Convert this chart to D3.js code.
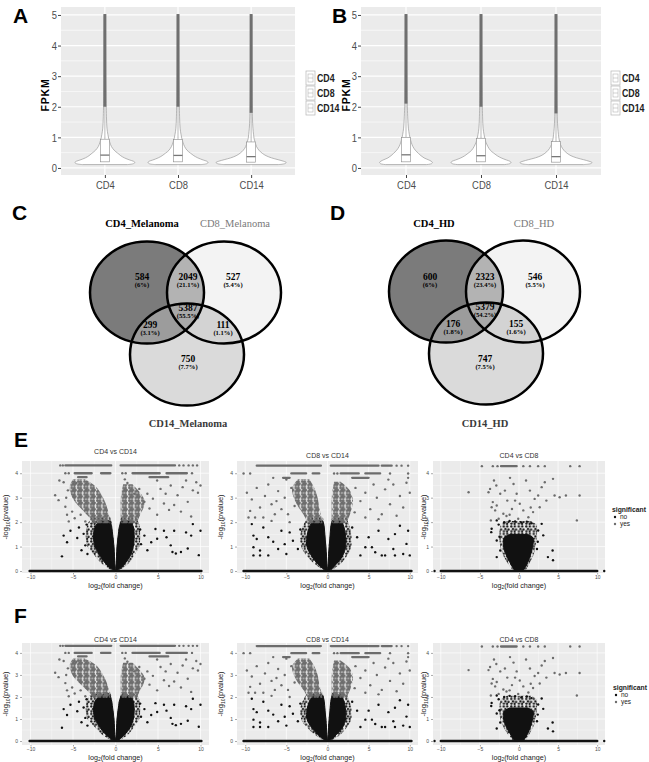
<!DOCTYPE html>
<html>
<head>
<meta charset="utf-8">
<script src="https://cdn.jsdelivr.net/npm/d3@7"></script>
<style>body{margin:0;background:#fff}</style>
</head>
<body>
<script>
// ---------- data ----------
var cellTypes = ["CD4", "CD8", "CD14"]
var fpkmTicks = [0, 1, 2, 3, 4, 5]
var fpkmMinor = [0.5, 1.5, 2.5, 3.5, 4.5]

// box stats per cell type: [q1, median, q3, first outlier]
var boxA = [[0.20, 0.42, 0.94, 2.0], [0.20, 0.41, 0.93, 2.0], [0.19, 0.37, 0.85, 1.8]]
var boxB = [[0.20, 0.43, 1.00, 2.1], [0.20, 0.40, 0.97, 2.0], [0.19, 0.37, 0.86, 1.78]]

// violin outline: [FPKM, relative density]
var vioA_CD4 = [[0.11,0.75],[0.14,0.95],[0.18,1.0],[0.22,0.95],[0.26,0.83],[0.33,0.65],[0.4,0.53],[0.48,0.43],[0.58,0.31],[0.7,0.22],[0.82,0.17],[0.95,0.13],[1.1,0.1],[1.3,0.07],[1.6,0.055],[2.0,0.045],[3.0,0.03],[5.0,0.02]]
var vioA_CD8 = [[0.11,0.76],[0.14,0.96],[0.18,1.0],[0.22,0.96],[0.26,0.84],[0.33,0.66],[0.4,0.53],[0.48,0.42],[0.58,0.3],[0.7,0.22],[0.82,0.17],[0.95,0.13],[1.1,0.1],[1.3,0.07],[1.6,0.055],[2.0,0.045],[3.0,0.03],[5.0,0.02]]
var vioA_CD14 = [[0.11,0.9],[0.14,1.12],[0.18,1.17],[0.22,1.08],[0.27,0.9],[0.33,0.68],[0.4,0.5],[0.48,0.37],[0.58,0.26],[0.7,0.18],[0.82,0.14],[0.95,0.1],[1.1,0.08],[1.3,0.06],[1.6,0.045],[2.0,0.035],[3.0,0.025],[5.0,0.02]]
var vioB_CD4 = [[0.11,0.68],[0.14,0.85],[0.18,0.88],[0.22,0.84],[0.27,0.74],[0.33,0.6],[0.4,0.5],[0.48,0.41],[0.58,0.31],[0.7,0.23],[0.82,0.18],[0.95,0.14],[1.1,0.11],[1.3,0.08],[1.6,0.06],[2.0,0.045],[3.0,0.03],[5.0,0.02]]
var vioB_CD8 = [[0.11,0.77],[0.14,0.96],[0.18,1.0],[0.22,0.96],[0.26,0.85],[0.33,0.67],[0.4,0.54],[0.48,0.43],[0.58,0.31],[0.7,0.23],[0.82,0.17],[0.95,0.13],[1.1,0.1],[1.3,0.07],[1.6,0.055],[2.0,0.045],[3.0,0.03],[5.0,0.02]]
var vioB_CD14 = [[0.11,0.92],[0.14,1.15],[0.18,1.2],[0.22,1.1],[0.27,0.92],[0.33,0.69],[0.4,0.5],[0.48,0.37],[0.58,0.26],[0.7,0.18],[0.82,0.13],[0.95,0.1],[1.1,0.08],[1.3,0.06],[1.6,0.045],[2.0,0.035],[3.0,0.025],[5.0,0.02]]

// venn: region order = CD4 only, CD4&CD8, CD8 only, all three, CD4&CD14, CD8&CD14, CD14 only
var vennSetsC = ["CD4_Melanoma", "CD8_Melanoma", "CD14_Melanoma"]
var vennCountsC = [584, 2049, 527, 5387, 299, 111, 750]
var vennPctC = ["6%", "21.1%", "5.4%", "55.5%", "3.1%", "1.1%", "7.7%"]
var vennSetsD = ["CD4_HD", "CD8_HD", "CD14_HD"]
var vennCountsD = [600, 2323, 546, 5379, 176, 155, 747]
var vennPctD = ["6%", "23.4%", "5.5%", "54.2%", "1.8%", "1.6%", "7.5%"]

// volcano plots. envelope rows: [-log10 p, x left, x right]; runs: [-log10 p, x0, x1]; pts: [log2FC, -log10 p]
var volcTitles = ["CD4 vs CD14", "CD8 vs CD14", "CD4 vs CD8"]

var v1_zero = [-10.1, 10.1]
var v1_noCore = [
  [[0.0,-0.15,0.0],[0.1,-0.55,-0.03],[0.3,-1.15,-0.08],[0.6,-1.8,-0.12],[1.0,-2.4,-0.18],[1.4,-2.6,-0.3],[1.8,-2.4,-0.45],[2.05,-1.9,-0.6]],
  [[0.0,0.0,0.15],[0.1,0.03,0.55],[0.3,0.08,1.1],[0.6,0.12,1.7],[1.0,0.18,2.1],[1.4,0.3,2.2],[1.8,0.45,2.1],[2.05,0.65,1.7]]
]
var v1_noFringe = [
  [[0.0,-0.3,0.0],[0.3,-1.6,-0.05],[0.7,-2.6,-0.1],[1.0,-3.3,-0.15],[1.5,-3.5,-0.3],[1.9,-3.3,-0.4],[2.2,-2.8,-0.6]],
  [[0.0,0.0,0.3],[0.3,0.05,1.5],[0.7,0.1,2.3],[1.0,0.15,2.8],[1.5,0.3,2.9],[1.9,0.45,2.8],[2.2,0.65,2.4]]
]
var v1_noPts = [[-6.3,0.6],[-6.1,1.45],[-5.7,1.18],[-5.3,1.65],[-4.5,1.35],[-4.0,0.85],[-3.75,1.52],[-3.55,1.05],[-4.3,1.78],[-3.4,1.9],
  [5.7,1.65],[6.0,1.38],[6.9,1.65],[7.1,0.72],[6.7,0.78],[7.7,0.78],[8.3,1.58],[8.9,1.45],[9.1,1.92],[9.8,0.65],[10.0,1.65],
  [4.9,1.32],[4.2,1.18],[4.7,1.72],[3.75,0.85],[3.4,1.45],[6.5,1.05],[8.5,0.92],[3.0,1.1],[2.9,1.7],[-3.3,0.7]]
var v1_yesClouds = [
  [[1.95,-2.6,-0.6],[2.2,-3.1,-0.7],[2.5,-3.9,-0.9],[2.8,-4.7,-1.2],[3.1,-5.2,-1.6],[3.45,-5.4,-2.3],[3.75,-5.0,-3.6]],
  [[1.95,0.65,2.5],[2.3,0.6,2.9],[2.6,0.6,3.3],[2.9,0.6,3.4],[3.2,0.7,2.9],[3.55,0.9,2.0]]
]
var v1_yesRuns = [[4.32,-5.9,-0.5],[4.32,0.6,7.0],[4.0,-4.8,-2.8],[4.0,-1.7,-0.6],[4.0,2.0,5.2],[4.0,6.0,8.4],[3.84,-4.4,-3.4],[3.84,4.0,6.2]]
var v1_yesPts = [[-6.5,4.32],[-6.2,4.32],[7.5,4.32],[8.0,4.32],[8.6,4.32],[9.1,4.32],[9.6,4.32],[-5.9,4.0],[-5.5,4.0],[0.8,4.0],[1.2,4.0],[9.0,4.0],
  [4.9,3.7],[5.3,3.36],[5.9,3.16],[6.5,3.5],[7.3,3.1],[7.9,3.43],[8.5,2.83],[9.1,3.3],[9.7,3.2],[10.0,3.5],[9.5,3.63],[8.3,3.7],
  [6.9,2.7],[6.3,2.5],[5.7,2.76],[4.9,2.3],[4.4,2.96],[4.0,2.56],[7.7,2.43],[8.9,2.23],
  [-7.1,3.1],[-6.7,2.9],[-6.6,3.7],[-6.1,3.63],[-5.9,2.63],[-5.7,2.3],[-5.5,2.03],[-5.1,2.43],[-4.8,2.16],[-4.1,2.3],[-3.55,2.03],
  [3.75,3.16],[3.4,2.83],[2.8,3.36],[2.2,3.16],[-5.6,3.3],[-5.8,3.0],[-4.6,3.6],[1.4,3.6],[1.1,3.75]]

var v2_zero = [-10.2, 10.2]
var v2_noCore = [
  [[0.0,-0.15,0.0],[0.1,-0.55,-0.03],[0.3,-1.2,-0.08],[0.6,-1.9,-0.12],[1.0,-2.5,-0.2],[1.4,-2.5,-0.3],[1.8,-2.2,-0.4],[2.05,-1.8,-0.55]],
  [[0.0,0.0,0.15],[0.1,0.03,0.55],[0.3,0.08,1.1],[0.6,0.12,1.8],[1.0,0.2,2.2],[1.4,0.3,2.2],[1.8,0.4,2.0],[2.05,0.55,1.7]]
]
var v2_noFringe = [
  [[0.0,-0.3,0.0],[0.3,-1.6,-0.05],[0.7,-2.7,-0.1],[1.0,-3.2,-0.15],[1.5,-3.3,-0.3],[1.9,-2.9,-0.4],[2.2,-2.4,-0.55]],
  [[0.0,0.0,0.3],[0.3,0.05,1.6],[0.7,0.1,2.5],[1.0,0.15,2.9],[1.5,0.3,2.9],[1.9,0.4,2.6],[2.2,0.55,2.3]]
]
var v2_noPts = [[-9.2,1.92],[-9.0,1.45],[-8.6,1.31],[-8.2,0.84],[-9.0,0.97],[-7.8,1.78],[-7.2,1.38],[-6.0,0.9],[-5.6,1.65],[-5.0,0.7],
  [-4.2,1.24],[-4.6,1.58],[-3.6,0.9],[5.0,1.38],[5.4,0.97],[6.2,1.65],[6.6,0.64],[7.4,1.31],[8.0,0.9],[8.8,1.85],[9.2,0.7],
  [9.6,1.11],[10.0,0.64],[4.0,0.64],[4.6,0.97],[8.2,1.51],[9.8,1.65],[3.6,1.38],[3.0,1.78],[-9.0,0.64],[-8.2,0.64],[-7.2,0.64],
  [7.0,0.64],[8.2,0.64],[5.8,0.77],[-6.6,1.2],[-3.3,1.7],[-5.2,1.1]]
var v2_yesClouds = [
  [[1.95,-2.4,-0.6],[2.3,-2.9,-0.8],[2.6,-3.5,-1.0],[3.0,-4.1,-1.2],[3.4,-4.3,-1.6],[3.75,-3.6,-2.2]],
  [[1.95,0.5,2.3],[2.2,0.5,2.6],[2.5,0.5,2.9],[2.9,0.5,3.1],[3.3,0.6,2.7],[3.65,0.8,1.6]]
]
var v2_yesRuns = [[4.31,-8.6,-0.8],[4.31,0.4,6.2],[4.31,6.6,7.8],[3.99,-4.4,-2.6],[3.99,-1.8,-1.0],[3.99,1.6,3.8],[3.99,4.6,6.4],[3.81,-5.4,-4.6],[3.81,3.0,5.0]]
var v2_yesPts = [[8.4,4.31],[9.0,4.31],[9.8,4.31],[-10.2,3.99],[-9.4,3.99],[0.8,3.99],[1.2,3.99],[7.6,3.99],[9.8,3.99],
  [-9.6,2.19],[-6.8,2.05],[-9.8,3.2],[-9.2,2.93],[-8.6,3.4],[-8.2,2.6],[-7.6,3.07],[-7.2,3.54],[-6.8,2.73],[-6.4,2.32],[-6.0,3.27],
  [-5.6,2.53],[-5.2,3.0],[-4.8,2.32],[-4.4,3.4],[-4.0,2.66],[-9.4,2.46],[-8.8,2.19],[-7.8,2.19],[-6.2,2.86],[-5.0,3.74],[-6.6,3.81],
  [3.4,3.4],[4.0,2.86],[4.6,3.2],[5.2,2.53],[5.6,3.54],[6.0,3.0],[6.6,2.32],[7.0,3.34],[7.6,2.73],[8.0,3.54],[8.4,2.26],[8.8,3.07],
  [9.2,2.6],[9.6,3.61],[10.0,3.2],[9.8,3.81],[7.4,3.74],[4.6,2.19],[6.2,2.12],[3.3,2.4],[-4.6,2.0]]

var v3_zero = [-10.0, 10.0]
var v3_noCore = [
  [[0.0,-0.5,0.5],[0.2,-0.9,0.9],[0.5,-1.4,1.3],[0.8,-1.8,1.6],[1.1,-2.0,1.8],[1.35,-1.9,1.8],[1.5,-1.2,1.1]]
]
var v3_noFringe = [
  [[0.0,-0.7,0.8],[0.3,-1.4,1.3],[0.7,-2.1,1.9],[1.0,-2.4,2.1],[1.5,-2.5,2.3],[1.9,-2.3,2.2],[2.05,-1.5,1.5]]
]
var v3_noPts = [[-10.8,0],[10.9,0],[-3.5,1.73],[-3.55,1.59],[-2.85,1.25],[-2.4,0.84],[-2.85,0.57],[2.9,1.93],[3.1,1.46],[3.7,0.57],
  [4.3,0.84],[4.35,0.44],[2.45,1.66],[-2.6,1.9],[-1.9,2.0],[-1.2,2.05],[0.3,1.98],[1.0,2.02],[1.6,1.95],[-0.5,2.03],[-2.85,2.07],
  [2.4,1.2],[2.3,0.9],[-2.5,1.4]]
var v3_yesClouds = []
var v3_yesRuns = [[4.29,-2.3,-0.3]]
var v3_yesPts = [[-4.75,4.29],[-3.35,4.29],[-2.75,4.29],[0.55,4.29],[1.4,4.29],[2.45,4.29],[3.3,4.29],[6.55,4.29],[7.75,4.29],
  [-6.45,3.22],[-3.9,3.22],[-3.7,3.36],[-3.2,3.7],[-2.9,3.5],[-3.35,2.82],[-3.5,2.61],[-2.85,2.68],[-2.4,3.16],[-1.8,3.29],
  [-1.5,2.88],[-1.15,3.81],[-0.7,3.56],[-0.5,2.88],[-0.9,2.54],[-2.0,2.34],[-2.6,2.14],[-0.1,2.14],[0.9,3.7],[1.4,3.29],[2.0,2.95],
  [2.45,3.09],[2.9,3.43],[3.3,3.63],[3.5,2.88],[2.65,2.61],[1.8,2.41],[1.2,2.2],[4.35,3.77],[4.55,3.09],[5.2,3.02],[6.0,3.09],
  [7.75,3.09],[7.4,2.07],[0.55,2.48],[0.1,2.75],[-0.3,3.16],[-3.05,2.48],[-3.6,2.07],[-1.6,2.25],[1.5,2.6],[-1.2,2.3]]

// ---------- styles / layout ----------
var W = 649, H = 762
var sans = "'Liberation Sans',Arial,sans-serif"
var serif = "'Liberation Serif','DejaVu Serif',serif"
var noCol = "#111", yesCol = "#6c6c6c"

var svg = d3.select("body").append("svg")
    .attr("width", W).attr("height", H)
    .attr("font-family", sans)
var defs = svg.append("defs")

// speckle textures standing in for dense point clouds
function dotPattern(id, tile, col, r, spots) {
    var p = defs.append("pattern").attr("id", id).attr("patternUnits", "userSpaceOnUse")
        .attr("width", tile).attr("height", tile)
    spots.forEach(s => p.append("circle").attr("cx", s[0]).attr("cy", s[1]).attr("r", r).attr("fill", col))
}
dotPattern("yesDots", 6.4, yesCol, 1.4, [[1.4,1.4],[4.0,1.5],[2.6,3.4],[5.0,3.6],[1.4,5.0],[4.1,5.0]])
dotPattern("noDots", 7.5, noCol, 1.15, [[1.3,1.5],[4.8,1.3],[3.0,4.0],[6.1,4.4],[1.4,6.2],[4.6,6.3]])

// panel letters
var letters = [["A", 13, 23], ["B", 332, 23], ["C", 12, 220], ["D", 330, 220], ["E", 14, 447], ["F", 14, 623]]
svg.selectAll(".letter").data(letters).join("text")
    .attr("x", d => d[1]).attr("y", d => d[2])
    .attr("font-size", 21).attr("font-weight", "bold")
    .text(d => d[0])

// ---------- violin panels ----------
function violinPanel(L, vios, stats) {
    var g = svg.append("g")
    var x = d3.scalePoint().domain(cellTypes).range([L.left, L.right]).padding(0.6)
    var y = d3.scaleLinear().domain([-0.23, 5.26]).range([L.bottom, L.top])
    var w = d3.scaleLinear().domain([0, 1]).range([0, 30])

    g.append("rect").attr("x", L.left).attr("y", L.top)
        .attr("width", L.right - L.left).attr("height", L.bottom - L.top)
        .attr("fill", "#ebebeb")
    g.selectAll(".mn").data(fpkmMinor).join("line")
        .attr("x1", L.left).attr("x2", L.right)
        .attr("y1", d => y(d)).attr("y2", d => y(d))
        .attr("stroke", "#fff").attr("stroke-width", 0.6)
    g.selectAll(".mj").data(fpkmTicks).join("line")
        .attr("x1", L.left).attr("x2", L.right)
        .attr("y1", d => y(d)).attr("y2", d => y(d))
        .attr("stroke", "#fff").attr("stroke-width", 1.2)
    g.selectAll(".vx").data(cellTypes).join("line")
        .attr("x1", d => x(d)).attr("x2", d => x(d))
        .attr("y1", L.top).attr("y2", L.bottom)
        .attr("stroke", "#fff").attr("stroke-width", 1.2)

    cellTypes.forEach((c, i) => {
        var cx = x(c)
        var area = d3.area().curve(d3.curveCatmullRom)
            .y(d => y(d[0])).x0(d => cx - w(d[1])).x1(d => cx + w(d[1]))
        g.append("path").datum(vios[i]).attr("d", area)
            .attr("fill", "#fff").attr("stroke", "#9a9a9a").attr("stroke-width", 0.7)
        var s = stats[i]
        g.append("line").attr("x1", cx).attr("x2", cx)
            .attr("y1", y(s[2])).attr("y2", y(s[3]))
            .attr("stroke", "#8a8a8a").attr("stroke-width", 0.6)
        g.append("line").attr("x1", cx).attr("x2", cx)
            .attr("y1", y(s[3])).attr("y2", y(5.03))
            .attr("stroke", "#6f6f6f").attr("stroke-width", 3)
        g.append("rect").attr("x", cx - 4.5).attr("y", y(s[2]))
            .attr("width", 9).attr("height", y(s[0]) - y(s[2]))
            .attr("fill", "#fff").attr("stroke", "#8a8a8a").attr("stroke-width", 0.6)
        g.append("line").attr("x1", cx - 4.5).attr("x2", cx + 4.5)
            .attr("y1", y(s[1])).attr("y2", y(s[1]))
            .attr("stroke", "#777").attr("stroke-width", 1.3)
    })

    var ya = g.append("g").attr("transform", `translate(${L.left},0)`)
        .call(d3.axisLeft(y).tickValues(fpkmTicks).tickSize(3).tickPadding(2).tickFormat(d3.format("d")))
    var xa = g.append("g").attr("transform", `translate(0,${L.bottom})`)
        .call(d3.axisBottom(x).tickSize(3).tickPadding(3))
    ;[ya, xa].forEach(a => {
        a.select(".domain").remove()
        a.selectAll("line").attr("stroke", "#444")
        a.selectAll("text").attr("font-size", 11.5).attr("fill", "#4d4d4d")
            .attr("transform", "scale(0.82,1)")
    })
    g.append("text")
        .attr("transform", `translate(${L.ylabX},${(L.top + L.bottom) / 2 + 4}) rotate(-90)`)
        .attr("text-anchor", "middle").attr("font-size", 10.5).attr("font-weight", "bold")
        .attr("letter-spacing", 0.8)
        .text("FPKM")

    // legend
    var lg = g.append("g").attr("transform", `translate(${L.legendX},71)`)
    cellTypes.forEach((c, i) => {
        var k = lg.append("g").attr("transform", `translate(0,${i * 15})`)
        k.append("rect").attr("width", 9).attr("height", 14)
            .attr("fill", "#fff").attr("stroke", "#b5b5b5").attr("stroke-width", 0.7)
        k.append("rect").attr("x", 2).attr("y", 3).attr("width", 5).attr("height", 8)
            .attr("fill", "#fff").attr("stroke", "#b5b5b5").attr("stroke-width", 0.6)
        k.append("line").attr("x1", 2).attr("x2", 7).attr("y1", 7).attr("y2", 7)
            .attr("stroke", "#b5b5b5").attr("stroke-width", 0.6)
        k.append("text").attr("transform", "translate(11,11) scale(0.8,1)")
            .attr("font-size", 11).attr("font-weight", "bold")
            .attr("fill", "#222").text(c)
    })
}

violinPanel({left: 61, right: 295, top: 7, bottom: 175, ylabX: 49, legendX: 306},
    [vioA_CD4, vioA_CD8, vioA_CD14], boxA)
violinPanel({left: 361, right: 601, top: 7, bottom: 175, ylabX: 350, legendX: 611},
    [vioB_CD4, vioB_CD8, vioB_CD14], boxB)

// ---------- venn panels ----------
var vennCircles = [[-38.5, -20.5], [38.5, -20.5], [1.5, 41.5]]
var vennRx = 57, vennRy = 51
var vennFill = ["#7b7b7b", "#f3f3f3", "#dadada"]
var pairFill = [[0, 1, "#b3b3b3"], [0, 2, "#9c9c9c"], [1, 2, "#d3d3d3"]]
var tripleFill = "#a9a9a9"

function venn(id, ox, oy, sets, counts, pcts, regionPos, namePos) {
    var g = svg.append("g")
    var c = vennCircles.map(d => ({cx: ox + d[0], cy: oy + d[1]}))
    c.forEach((d, i) => {
        defs.append("clipPath").attr("id", id + i)
            .append("ellipse").attr("cx", d.cx).attr("cy", d.cy).attr("rx", vennRx).attr("ry", vennRy)
    })
    var ell = (sel, d) => sel.append("ellipse").attr("cx", d.cx).attr("cy", d.cy).attr("rx", vennRx).attr("ry", vennRy)
    c.forEach((d, i) => ell(g, d).attr("fill", vennFill[i]))
    pairFill.forEach(p => ell(g.append("g").attr("clip-path", `url(#${id + p[0]})`), c[p[1]]).attr("fill", p[2]))
    ell(g.append("g").attr("clip-path", `url(#${id}0)`).append("g").attr("clip-path", `url(#${id}1)`), c[2])
        .attr("fill", tripleFill)
    c.forEach(d => ell(g, d).attr("fill", "none").attr("stroke", "#000").attr("stroke-width", 2.5))

    counts.forEach((n, i) => {
        var p = regionPos[i]
        g.append("text").attr("x", ox + p[0]).attr("y", oy + p[1] + 2)
            .attr("text-anchor", "middle").attr("font-family", serif)
            .attr("font-size", 9.5).attr("font-weight", "bold").text(n)
        g.append("text").attr("x", ox + p[0]).attr("y", oy + p[1] + 9)
            .attr("text-anchor", "middle").attr("font-family", serif)
            .attr("font-size", 6.6).attr("font-weight", "bold").text("(" + pcts[i] + ")")
    })
    var nameStyle = [["bold", "#000"], ["normal", "#7a7a7a"], ["bold", "#3a3a3a"]]
    sets.forEach((s, i) => {
        g.append("text").attr("x", namePos[i][0]).attr("y", namePos[i][1] + 4)
            .attr("text-anchor", "middle").attr("font-family", serif).attr("font-size", 10.5)
            .attr("font-weight", nameStyle[i][0]).attr("fill", nameStyle[i][1]).text(s)
    })
}

venn("vc", 185.5, 313, vennSetsC, vennCountsC, vennPctC,
    [[-43.5, -35], [2.5, -35], [47.5, -35], [2.5, -4], [-35.5, 13], [37.5, 13], [2.5, 47]],
    [[142, 223], [235, 223], [188, 423]])
venn("vd", 484.5, 312, vennSetsD, vennCountsD, vennPctD,
    [[-54.5, -34], [0.5, -34], [50.5, -34], [0.5, -4], [-31.5, 13], [31.5, 13], [0.5, 48]],
    [[434, 223], [534, 223], [485, 423]])

// ---------- volcano panels ----------
var volcData = [
    {zero: v1_zero, noCore: v1_noCore, noFringe: v1_noFringe, noPts: v1_noPts, yesClouds: v1_yesClouds, yesRuns: v1_yesRuns, yesPts: v1_yesPts},
    {zero: v2_zero, noCore: v2_noCore, noFringe: v2_noFringe, noPts: v2_noPts, yesClouds: v2_yesClouds, yesRuns: v2_yesRuns, yesPts: v2_yesPts},
    {zero: v3_zero, noCore: v3_noCore, noFringe: v3_noFringe, noPts: v3_noPts, yesClouds: v3_yesClouds, yesRuns: v3_yesRuns, yesPts: v3_yesPts}
]
var fcTicks = [-10, -5, 0, 5, 10], fcMinor = [-7.5, -2.5, 2.5, 7.5]
var pTicks = [0, 1, 2, 3, 4], pMinor = [0.5, 1.5, 2.5, 3.5]
var cols = [{left: 22, right: 209, ylabX: 8}, {left: 237, right: 418, ylabX: 223}, {left: 433, right: 605, ylabX: 426}]
var rows = [{top: 461, bottom: 573, yDom: [-0.08, 4.5], titleY: [451, 455, 455]},
            {top: 643, bottom: 745, yDom: [-0.18, 4.45], titleY: [639, 639, 639]}]

function volcano(L, D, title, titleY) {
    var g = svg.append("g")
    var x = d3.scaleLinear().domain([-11, 11]).range([L.left, L.right])
    var y = d3.scaleLinear().domain(L.yDom).range([L.bottom, L.top])
    g.append("rect").attr("x", L.left).attr("y", L.top)
        .attr("width", L.right - L.left).attr("height", L.bottom - L.top).attr("fill", "#ebebeb")
    var grid = (vals, vert, sw) => g.selectAll(null).data(vals).join("line")
        .attr("x1", d => vert ? x(d) : L.left).attr("x2", d => vert ? x(d) : L.right)
        .attr("y1", d => vert ? L.top : y(d)).attr("y2", d => vert ? L.bottom : y(d))
        .attr("stroke", "#fff").attr("stroke-width", sw)
    grid(fcMinor, true, 0.35); grid(pMinor, false, 0.35)
    grid(fcTicks, true, 0.7); grid(pTicks, false, 0.7)

    var area = d3.area().curve(d3.curveCatmullRom)
        .y(d => y(d[0])).x0(d => x(d[1])).x1(d => x(d[2]))
    g.append("line").attr("x1", x(D.zero[0])).attr("x2", x(D.zero[1]))
        .attr("y1", y(0)).attr("y2", y(0))
        .attr("stroke", noCol).attr("stroke-width", 2.5).attr("stroke-linecap", "round")
    D.noFringe.forEach(a => g.append("path").datum(a).attr("d", area).attr("fill", "url(#noDots)"))
    D.noCore.forEach(a => g.append("path").datum(a).attr("d", area).attr("fill", noCol)
        .attr("stroke", noCol).attr("stroke-width", 1))
    g.selectAll(null).data(D.noPts).join("circle")
        .attr("cx", d => x(d[0])).attr("cy", d => y(d[1])).attr("r", 1.2).attr("fill", noCol)
    D.yesClouds.forEach(a => g.append("path").datum(a).attr("d", area).attr("fill", "url(#yesDots)"))
    g.selectAll(null).data(D.yesRuns).join("line")
        .attr("x1", d => x(d[1])).attr("x2", d => x(d[2]))
        .attr("y1", d => y(d[0])).attr("y2", d => y(d[0]))
        .attr("stroke", yesCol).attr("stroke-width", 2.3).attr("stroke-linecap", "round")
    g.selectAll(null).data(D.yesPts).join("circle")
        .attr("cx", d => x(d[0])).attr("cy", d => y(d[1])).attr("r", 1.2).attr("fill", yesCol)

    var ya = g.append("g").attr("transform", `translate(${L.left},0)`)
        .call(d3.axisLeft(y).tickValues(pTicks).tickSize(2).tickPadding(2).tickFormat(d3.format("d")))
    var xa = g.append("g").attr("transform", `translate(0,${L.bottom})`)
        .call(d3.axisBottom(x).tickValues(fcTicks).tickSize(1.5).tickPadding(1).tickFormat(d3.format("d")))
    ;[ya, xa].forEach(a => {
        a.select(".domain").remove()
        a.selectAll("line").attr("stroke", "#555").attr("stroke-width", 0.5)
        a.selectAll("text").attr("font-size", 5).attr("fill", "#4d4d4d").attr("font-family", sans)
    })
    g.append("text").attr("x", (L.left + L.right) / 2).attr("y", titleY + 2.5)
        .attr("text-anchor", "middle").attr("font-size", 7).attr("fill", "#333").text(title)
    var xl = g.append("text").attr("x", (L.left + L.right) / 2).attr("y", L.bottom + 14.5)
        .attr("text-anchor", "middle").attr("font-size", 7.2).attr("fill", "#222")
    xl.append("tspan").text("log")
    xl.append("tspan").attr("dy", 1.5).attr("font-size", 5).text("2")
    xl.append("tspan").attr("dy", -1.5).text("(fold change)")
    var yl = g.append("text")
        .attr("transform", `translate(${L.ylabX},${(L.top + L.bottom) / 2}) rotate(-90)`)
        .attr("text-anchor", "middle").attr("font-size", 7.5).attr("fill", "#222")
    yl.append("tspan").text("-log")
    yl.append("tspan").attr("dy", 2).attr("font-size", 5).text("10")
    yl.append("tspan").attr("dy", -2).text("(pvalue)")
}

function sigLegend(lx, ly) {
    var g = svg.append("g").attr("transform", `translate(${lx},${ly})`)
    g.append("text").attr("font-size", 6.8).attr("font-weight", "bold").attr("fill", "#222").text("significant")
    ;[["no", noCol], ["yes", yesCol]].forEach((d, i) => {
        g.append("circle").attr("cx", 3).attr("cy", 7 + i * 7 - 2).attr("r", 1.2).attr("fill", d[1])
        g.append("text").attr("x", 8).attr("y", 7 + i * 7).attr("font-size", 6.5).attr("fill", "#222").text(d[0])
    })
}

rows.forEach(r => {
    cols.forEach((c, ci) => {
        volcano({left: c.left, right: c.right, top: r.top, bottom: r.bottom, yDom: r.yDom, ylabX: c.ylabX},
            volcData[ci], volcTitles[ci], r.titleY[ci])
    })
})
sigLegend(612, 512)
sigLegend(613, 690)
</script>
</body>
</html>
